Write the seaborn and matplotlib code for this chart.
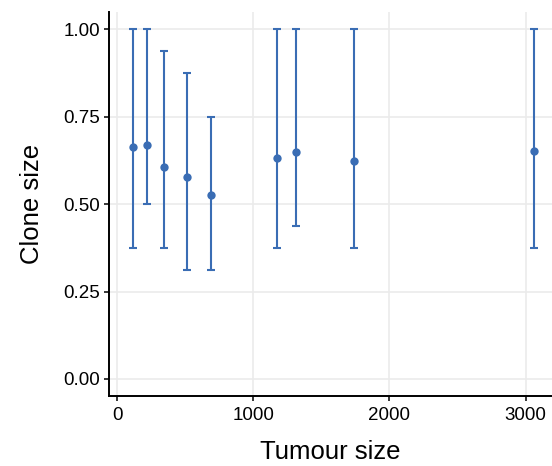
import matplotlib
matplotlib.use("Agg")
import matplotlib.pyplot as plt
import seaborn as sns
import numpy as np
import pandas as pd

tumour_size = [120, 220, 347, 517, 693, 1175, 1314, 1740, 3064]
clone_size = [0.665, 0.668, 0.607, 0.578, 0.527, 0.632, 0.649, 0.624, 0.651]
upper = [1.0, 1.0, 0.937, 0.875, 0.75, 1.0, 1.0, 1.0, 1.0]
lower = [0.375, 0.5, 0.375, 0.3125, 0.3125, 0.375, 0.4375, 0.375, 0.375]

df = pd.DataFrame({"Tumour size": tumour_size, "Clone size": clone_size,
                   "upper": upper, "lower": lower})

sns.set_theme(style="white")
plt.rcParams['font.family'] = ['Liberation Sans', 'DejaVu Sans']

color = "#3a6db4"
fig = plt.figure(figsize=(5.52, 4.66), dpi=100)
ax = fig.add_axes([0.1975, 0.1509, 0.8025, 0.8227])

ax.errorbar(df["Tumour size"], df["Clone size"],
            yerr=[df["Clone size"] - df["lower"], df["upper"] - df["Clone size"]],
            fmt="none", ecolor=color, elinewidth=1.5, capsize=2.9, capthick=1.5, zorder=3)
sns.scatterplot(data=df, x="Tumour size", y="Clone size", ax=ax, color=color,
                s=36, edgecolor=color, linewidth=0, zorder=4)

ax.set_xlim(-59, 3194)
ax.set_ylim(-0.048, 1.049)
ax.set_xticks([0, 1000, 2000, 3000])
ax.set_yticks([0.0, 0.25, 0.5, 0.75, 1.0])
ax.set_yticklabels(["0.00", "0.25", "0.50", "0.75", "1.00"])

ax.grid(True, color="#ebebeb", linewidth=1.2)
ax.set_axisbelow(True)
for s in ["top", "right"]:
    ax.spines[s].set_visible(False)
for s in ["left", "bottom"]:
    ax.spines[s].set_color("black")
    ax.spines[s].set_linewidth(1.4)
ax.tick_params(axis="both", which="major", direction="out", length=3.5, width=1.1,
               color="black", labelsize=13.5, labelcolor="black",
               bottom=True, left=True)
ax.tick_params(axis="x", pad=5)
ax.tick_params(axis="y", pad=3)
ax.set_xlabel("Tumour size", fontsize=18.5, color="black", labelpad=11)
ax.set_ylabel("Clone size", fontsize=18.5, color="black", labelpad=14)

fig.savefig("out.png", dpi=100)
